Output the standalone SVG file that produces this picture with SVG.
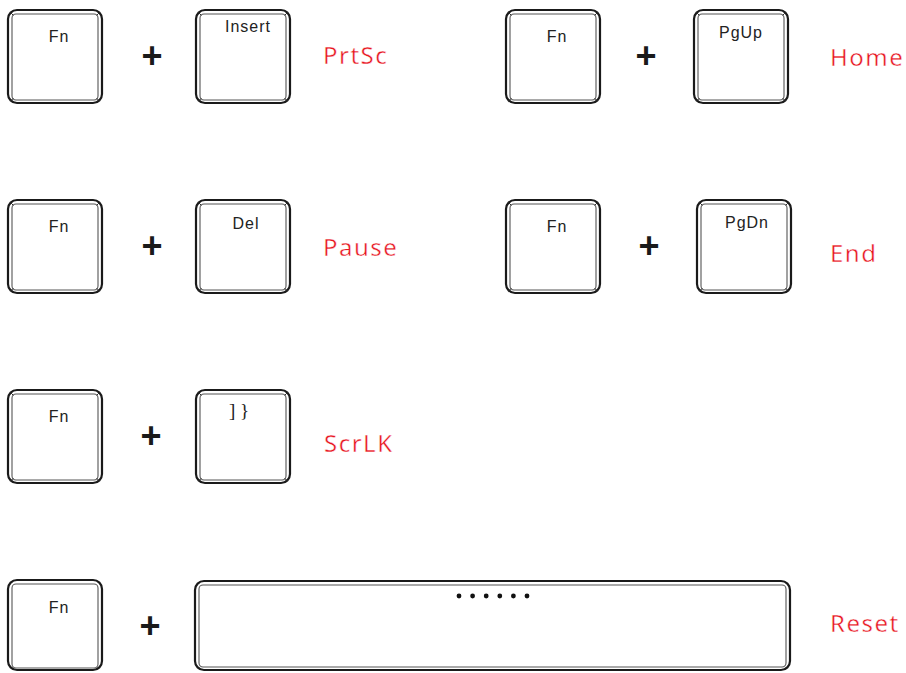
<svg xmlns="http://www.w3.org/2000/svg" width="906" height="673" viewBox="0 0 906 673">
<style>
.o{fill:#fff;stroke:#1a1a1a;stroke-width:2.2}
.i{fill:none;stroke:#555;stroke-width:1.1}
.c{stroke:#333;stroke-width:1}
.k{font-family:"Liberation Sans",Arial,sans-serif;font-size:16px;letter-spacing:1px;fill:#222;text-anchor:middle}
.p{font-family:"Liberation Sans",Arial,sans-serif;font-size:36px;font-weight:bold;fill:#1a1a1a;text-anchor:middle}
.r{font-family:"Noto Sans","Open Sans",sans-serif;font-size:24px;fill:#e8141e;letter-spacing:1.5px;stroke:#fff;stroke-width:0.4px}
</style>
<defs>
<g id="key">
<rect class="o" x="1" y="1" width="94" height="93" rx="9"/>
<rect class="i" x="5" y="5" width="86" height="86" rx="4"/>
<path class="c" d="M3.5 3.5L6.5 6.5M92.5 3.5L89.5 6.5M3.5 91.5L6.5 89.5M92.5 91.5L89.5 89.5"/>
</g>
</defs>
<g id="row1-fn"><use href="#key" x="7" y="9"/><text class="k" x="59" y="42">Fn</text></g>
<g id="row1-insert"><use href="#key" x="195" y="9"/><text class="k" x="248" y="32">Insert</text></g>
<g id="row1-fn2"><use href="#key" x="505" y="9"/><text class="k" x="557" y="42">Fn</text></g>
<g id="row1-pgup"><use href="#key" x="693" y="9"/><text class="k" x="741" y="38">PgUp</text></g>
<g id="row2-fn"><use href="#key" x="7" y="199"/><text class="k" x="59" y="232">Fn</text></g>
<g id="row2-del"><use href="#key" x="195" y="199"/><text class="k" x="246" y="229">Del</text></g>
<g id="row2-fn2"><use href="#key" x="505" y="199"/><text class="k" x="557" y="232">Fn</text></g>
<g id="row2-pgdn"><use href="#key" x="696" y="199"/><text class="k" x="747" y="228">PgDn</text></g>
<g id="row3-fn"><use href="#key" x="7" y="389"/><text class="k" x="59" y="422">Fn</text></g>
<g id="row3-bracket"><use href="#key" x="195" y="389"/><text x="239" y="417" style="font-family:'Liberation Serif',serif;font-size:19px;fill:#222;text-anchor:middle">] }</text></g>
<g id="row4-fn"><rect class="o" x="8" y="580" width="94" height="90" rx="9"/><rect class="i" x="12" y="584" width="86" height="84" rx="4"/><text class="k" x="59" y="613">Fn</text></g>
<g id="row4-space"><rect class="o" x="195" y="581" width="595" height="89" rx="9"/><rect class="i" x="199" y="585" width="587" height="82" rx="4"/>
<g fill="#111"><circle cx="459" cy="596" r="2.4"/><circle cx="472.6" cy="596" r="2.4"/><circle cx="486.2" cy="596" r="2.4"/><circle cx="499.8" cy="596" r="2.4"/><circle cx="513.4" cy="596" r="2.4"/><circle cx="527" cy="596" r="2.4"/></g></g>
<g id="plus">
<text class="p" x="152" y="68">+</text>
<text class="p" x="646" y="68">+</text>
<text class="p" x="152" y="258">+</text>
<text class="p" x="649" y="258">+</text>
<text class="p" x="151" y="448">+</text>
<text class="p" x="150" y="638">+</text>
</g>
<g id="labels">
<text class="r" x="323" y="64">PrtSc</text>
<text class="r" x="830" y="66">Home</text>
<text class="r" x="323" y="256">Pause</text>
<text class="r" x="830" y="262">End</text>
<text class="r" x="324" y="452">ScrLK</text>
<text class="r" x="830" y="632">Reset</text>
</g>
</svg>
